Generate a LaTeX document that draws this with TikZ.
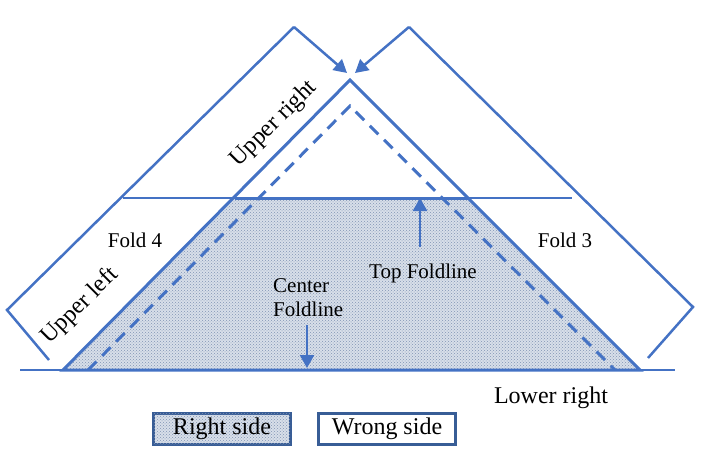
\documentclass[tikz,border=0pt]{standalone}
\usepackage{fontspec}
\setmainfont{Liberation Serif}
\usetikzlibrary{patterns,arrows.meta}
\definecolor{lb}{RGB}{68,114,196}
\definecolor{db}{RGB}{56,93,150}
\definecolor{shadecol}{RGB}{216,223,233}
\begin{document}
\begin{tikzpicture}[x=1pt,y=-1pt,
  outline/.style={draw=lb,line width=3pt,line join=miter},
  bandline/.style={draw=lb,line width=2.5pt,line join=miter},
  thinline/.style={draw=lb,line width=1.2pt},
  dashline/.style={draw=lb,line width=3pt,dash pattern=on 12pt off 8pt},
  dotted fill/.style={fill=shadecol,postaction={pattern=crosshatch dots,pattern color=lb!50!gray!80}},
  bigtxt/.style={font=\fontsize{24}{28}\selectfont,inner sep=0pt},
  smalltxt/.style={font=\fontsize{21}{24}\selectfont,inner sep=0pt},
  arr/.style={draw=lb,line width=2.5pt,-{Triangle[length=13pt,width=14pt]}},
  legendbox/.style={draw=db,line width=3.5pt,minimum width=137pt,minimum height=31pt,inner sep=0pt,font=\fontsize{24}{28}\selectfont}
]
\useasboundingbox (0,0) rectangle (710,463);
% triangle corners
\coordinate (A) at (350,80);
\coordinate (BL) at (63,370);
\coordinate (BR) at (640,370);
\coordinate (TL) at (235,198);
\coordinate (TR) at (468,198);
% dashed triangle
\coordinate (DA) at (350,106);
\coordinate (DL) at (88,370);
\coordinate (DR) at (615,370);
% shaded region
\path[dotted fill] (TL) -- (TR) -- (BR) -- (BL) -- cycle;
% thin lines
\coordinate (H1) at (123,198);
\coordinate (H2) at (572,198);
\coordinate (G1) at (20,370);
\coordinate (G2) at (675,370);
\draw[thinline] (H1) -- (H2);
\draw[thinline] (G1) -- (G2);
% thick top segment and triangle
\draw[outline] (TL) -- (TR);
\draw[outline] (BL) -- (A) -- (BR) -- cycle;
% dashed
\draw[dashline] (DL) -- (DA) -- (DR);
% left band
\coordinate (L1) at (49,360);
\coordinate (L2) at (7,310);
\coordinate (L3) at (294,27);
\coordinate (L4) at (347,73);
\draw[bandline] (L1) -- (L2) -- (L3);
\draw[arr] (L3) -- (L4);
% right band
\coordinate (R1) at (648,358);
\coordinate (R2) at (693,307);
\coordinate (R3) at (409,27);
\coordinate (R4) at (355,73);
\draw[bandline] (R1) -- (R2) -- (R3);
\draw[arr] (R3) -- (R4);
% fold arrows
\coordinate (T1) at (420,247);
\coordinate (T2) at (420,198);
\draw[arr] (T1) -- (T2);
\coordinate (C1) at (307,325);
\coordinate (C2) at (307,368);
\draw[arr] (C1) -- (C2);
% labels
\node[bigtxt,rotate=45] (ur) at (274,124) {Upper right};
\node[bigtxt,rotate=45] (ul) at (80,306) {Upper left};
\node[bigtxt] (lr) at (551,398) {Lower right};
\node[smalltxt] (f4) at (135,240) {Fold 4};
\node[smalltxt] (f3) at (565,240) {Fold 3};
\node[smalltxt] (tf) at (423,273) {Top Foldline};
\node[smalltxt,align=left,anchor=north west] (cf) at (273,278) {Center\\Foldline};
% legend
\node[legendbox,dotted fill] (rs) at (222,429) {Right side};
\node[legendbox,fill=white] (ws) at (387,429) {Wrong side};
\end{tikzpicture}
\end{document}
